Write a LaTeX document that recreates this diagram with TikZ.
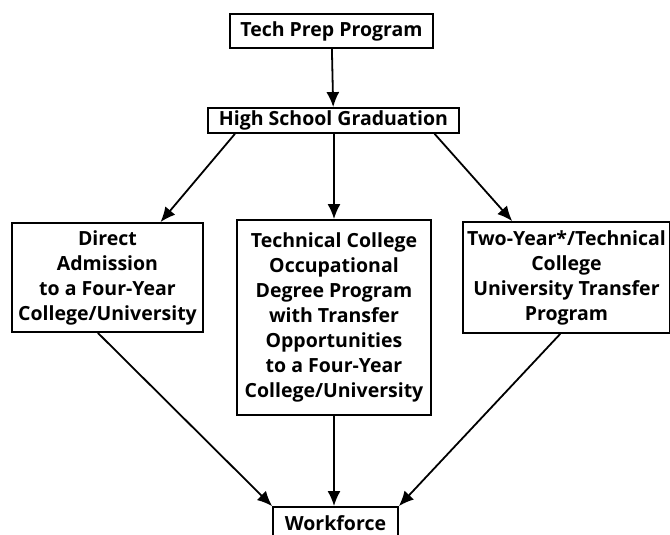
\documentclass[tikz,border=0pt]{standalone}
\usepackage{fontspec}
\setmainfont{Open Sans}
\usetikzlibrary{arrows.meta,calc}

\begin{document}
\begin{tikzpicture}[x=1pt,y=-1pt,font=\fontsize{19.5}{25}\selectfont\bfseries,
  box/.style={draw,line width=1.8pt,align=center,inner sep=1pt},
  arr/.style={line width=1.8pt,-{Latex[length=15pt,width=13pt]}}]
  % Page frame
  \useasboundingbox (0,0) rectangle (670,535);

  % Top of the path
  \node[box,minimum width=203pt,minimum height=34pt] (tech) at (331.5,31) {Tech Prep Program};
  \node[box,minimum width=251pt,minimum height=25pt] (hs) at (333.5,120.5) {High School Graduation};

  % Three routes
  \node[box,minimum width=191pt,minimum height=109pt] (direct) at (107.5,277.5)
    {Direct\\Admission\\to a Four-Year\\College/University};
  \node[box,minimum width=194pt,minimum height=195pt] (tcol) at (334,317.5)
    {Technical College\\Occupational\\Degree Program\\with Transfer\\Opportunities\\to a Four-Year\\College/University};
  \node[box,minimum width=207pt,minimum height=111pt] (twoyr) at (566.5,277.5)
    {Two-Year*/Technical\\College\\University Transfer\\Program};

  % End of the path (cut by the page edge)
  \node[box,minimum width=125pt,minimum height=32pt] (work) at (335.5,523) {Workforce};

  % Arrows
  \draw[arr] (tech) -- (hs);
  \draw[arr] ($(hs.south west)!0.11!(hs.south east)$) -- ($(direct.north west)!0.775!(direct.north east)$);
  \draw[arr] (hs.south -| tcol.north) -- (tcol.north);
  \draw[arr] ($(hs.south west)!0.9!(hs.south east)$) -- ($(twoyr.north west)!0.24!(twoyr.north east)$);
  \draw[arr] ($(direct.south west)!0.45!(direct.south east)$) -- (work.north west);
  \draw[arr] (tcol.south) -- (tcol.south |- work.north);
  \draw[arr] ($(twoyr.south west)!0.47!(twoyr.south east)$) -- (work.north east);
\end{tikzpicture}
\end{document}
